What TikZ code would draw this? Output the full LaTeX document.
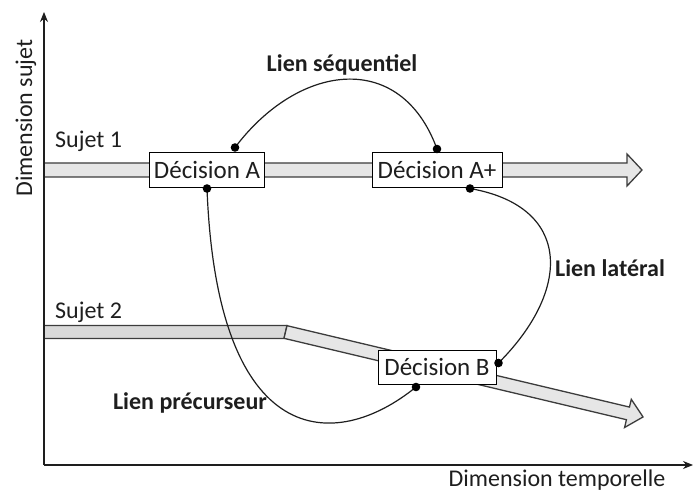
\documentclass[tikz,border=0pt]{standalone}
\usepackage{fontspec}
\setmainfont{Carlito}
\usetikzlibrary{arrows.meta}

\definecolor{barline}{HTML}{3C3C3C}
\definecolor{barone}{HTML}{E6E6E6}
\definecolor{bartwo}{HTML}{D9D9D9}
\definecolor{inkgray}{HTML}{1E1E1E}

\begin{document}
\begin{tikzpicture}[x=1pt,y=1pt,>={Stealth[length=10pt,width=8pt]},node distance=230pt,
    font=\fontsize{24}{28}\selectfont,text=inkgray,
    dec node/.style={draw=black,fill=white,line width=1pt,minimum height=35pt,inner xsep=4pt,font=\fontsize{25}{29}\selectfont},
    link/.style={draw=inkgray,line width=1.2pt},
    lbl/.style={font=\fontsize{24}{28}\selectfont\bfseries},
    bar/.style={draw=barline,line width=1.3pt,line join=miter}]

                \useasboundingbox (0,0) rectangle (693,493);

                % bars of the two subjects
                \draw[bar, fill=barone] (44,330) -- (627,330) -- (627,339) -- (642,323)
                    -- (627,307) -- (627,316) -- (44,316) -- cycle;
                \draw[bar, fill=bartwo] (44,154.5) -- (284,154.5) -- (287,167.5) -- (44,167.5) -- cycle;
                \begin{scope}[shift={(285.5,161)}, rotate=-13.37]
                    \draw[bar, fill=barone] (0,6.5) -- (352,6.5) -- (352,14.5) -- (367.5,0)
                        -- (352,-14.5) -- (352,-6.5) -- (0,-6.5) -- cycle;
                \end{scope}

                % axes
                \coordinate (O) at (44,28);
                \coordinate (ytop) at (44,481);
                \coordinate (xend) at (693,28);
                \draw[->, draw=inkgray, line width=1.2pt] (O) -- (ytop);
                \draw[->, draw=inkgray, line width=1.2pt] (O) -- (xend);

                % decisions
                \node[dec node, minimum width=113pt] (A) at (207,323) {Décision A};
                \node[dec node, minimum width=130pt] (Ap) [right of = A] {Décision A+};
                \node[dec node, minimum width=118pt, minimum height=34pt] (B) [below of = Ap, node distance=197pt] {Décision B};

                \coordinate (dAt) at ([xshift=28pt,yshift=4.5pt]A.north);
                \coordinate (dAb) at ([yshift=-0.5pt]A.south);
                \coordinate (dApt) at ([yshift=3pt]Ap.north);
                \coordinate (dApb) at ([xshift=33pt,yshift=-0.5pt]Ap.south);
                \coordinate (dBb) at ([xshift=-21pt,yshift=-2.5pt]B.south);
                \coordinate (dBr) at ([xshift=2pt,yshift=4pt]B.east);

                % links
                \draw[link] (dAt) to[out=53,in=110,looseness=1.34] (dApt);
                \draw[link] (dApb) to[out=-10,in=45,looseness=1.5] (dBr);
                \draw[link] (dAb) .. controls +(10,-262) and +(-81,-66) .. (dBb);

                \foreach \d in {dAt,dAb,dApt,dApb,dBb,dBr}
                    \fill[black] (\d) circle (4.3pt);

                % labels
                \node[lbl, anchor=base] (lseq) at (342,421) {Lien séquentiel};
                \node[lbl, anchor=base] (llat) at (610,216) {Lien latéral};
                \node[lbl, anchor=base] (lpre) at (190,84) {Lien précurseur};
                \node[anchor=base west, inner sep=0pt] (s1) at (55,345) {Sujet 1};
                \node[anchor=base west, inner sep=0pt] (s2) at (55,175) {Sujet 2};
                \node[anchor=base, inner sep=0pt] (tx) at (557,7) {Dimension temporelle};
                \node[anchor=base, rotate=90, inner sep=0pt] (ty) at (32,375) {Dimension sujet};

                ;
            \end{tikzpicture}
\end{document}
